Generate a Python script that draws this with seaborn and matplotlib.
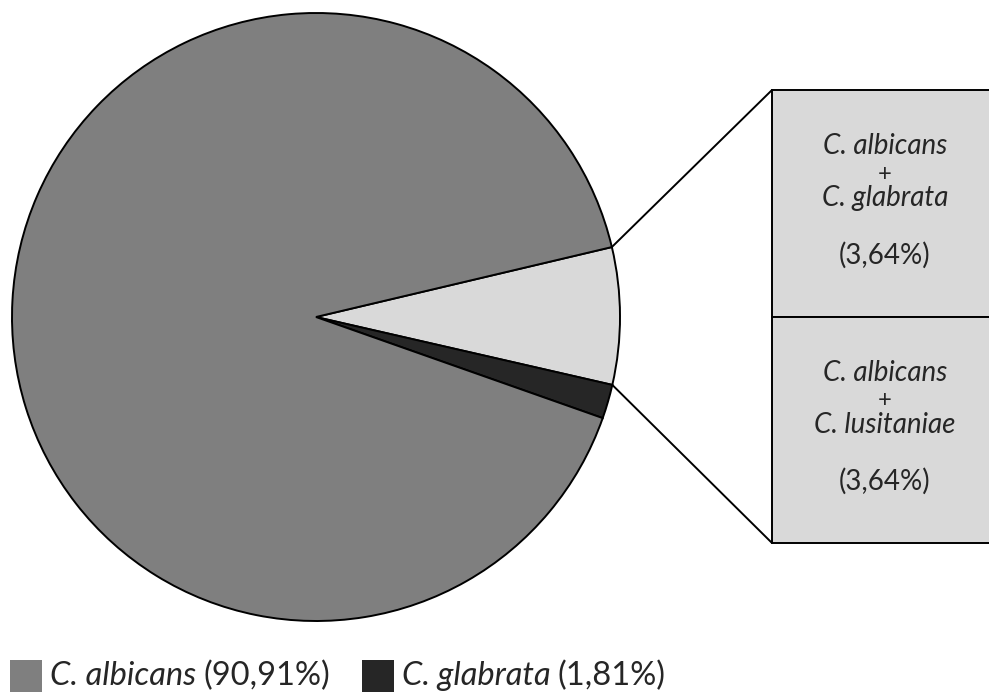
import matplotlib
matplotlib.use("Agg")
import matplotlib.pyplot as plt
from matplotlib.patches import Rectangle
import numpy as np
import seaborn as sns

# Species distribution (%)
pie_labels = ["C. albicans", "C. glabrata", "Mixed"]
pie_values = [90.91, 1.81, 7.28]
mixed_labels = [["C. albicans", "C. glabrata"], ["C. albicans", "C. lusitaniae"]]
mixed_values = [3.64, 3.64]
value_text = ["90,91%", "1,81%", "3,64%", "3,64%"]

sns.set_theme(style="white")
plt.rcParams["font.family"] = ["Lato", "DejaVu Sans"]

colors = {"C. albicans": "#7f7f7f", "C. glabrata": "#262626", "Mixed": "#d9d9d9"}

W, H = 989, 695
fig = plt.figure(figsize=(W / 100, H / 100), dpi=100)
ax = fig.add_axes([0, 0, 1, 1])

cx, cy, r = 316, H - 317, 304
lw = 1.4
order = [2, 1, 0]
wedges, _ = ax.pie([pie_values[i] for i in order],
                   colors=[colors[pie_labels[i]] for i in order],
                   startangle=13.3, counterclock=False,
                   center=(cx, cy), radius=r, frame=True,
                   wedgeprops=dict(edgecolor="black", linewidth=lw))
ax.set_xlim(0, W)
ax.set_ylim(0, H)
ax.set_aspect("equal")
ax.axis("off")

# Bar of pie for the mixed infections
bx0, bx1 = 772, 992
btop, bbot = H - 90, H - 543
scale = (btop - bbot) / sum(mixed_values)
top = btop
bar_centers = []
for v in mixed_values:
    h = v * scale
    ax.bar(bx0, h, bottom=top - h, width=bx1 - bx0, align="edge",
           color=colors["Mixed"], edgecolor="black", linewidth=lw)
    bar_centers.append(top - h / 2)
    top -= h

# Connector lines from the mixed wedge to the bar
w = wedges[0]
for ang, by in [(w.theta2, btop), (w.theta1, bbot)]:
    px = cx + r * np.cos(np.radians(ang))
    py = cy + r * np.sin(np.radians(ang))
    ax.plot([px, bx0], [py, by], color="black", linewidth=lw)

fs = 20
tx = 885
for (a, b), v, yc in zip(mixed_labels, mixed_values, bar_centers):
    ax.text(tx, yc + 49, a, ha="center", va="baseline", fontsize=fs, style="italic")
    ax.text(tx, yc + 29, "+", ha="center", va="center", fontsize=fs * 0.85)
    ax.text(tx, yc - 3, b, ha="center", va="baseline", fontsize=fs, style="italic")
    ax.text(tx, yc - 60, f"({value_text[2]})", ha="center", va="baseline", fontsize=fs)

# Legend
fig.canvas.draw()
renderer = fig.canvas.get_renderer()
leg_base = H - 685
lfs = 23.5
for x0, name, txt in [(10, "C. albicans", value_text[0]), (362, "C. glabrata", value_text[1])]:
    ax.add_patch(Rectangle((x0, H - 692), 32, 32, facecolor=colors[name], edgecolor="none"))
    t1 = ax.text(x0 + 40, leg_base, name, ha="left", va="baseline", fontsize=lfs, style="italic")
    bb = t1.get_window_extent(renderer)
    ax.text(bb.x1 + 7, leg_base, f"({txt})", ha="left", va="baseline", fontsize=lfs)

fig.savefig("out.png", dpi=100, facecolor="white")
